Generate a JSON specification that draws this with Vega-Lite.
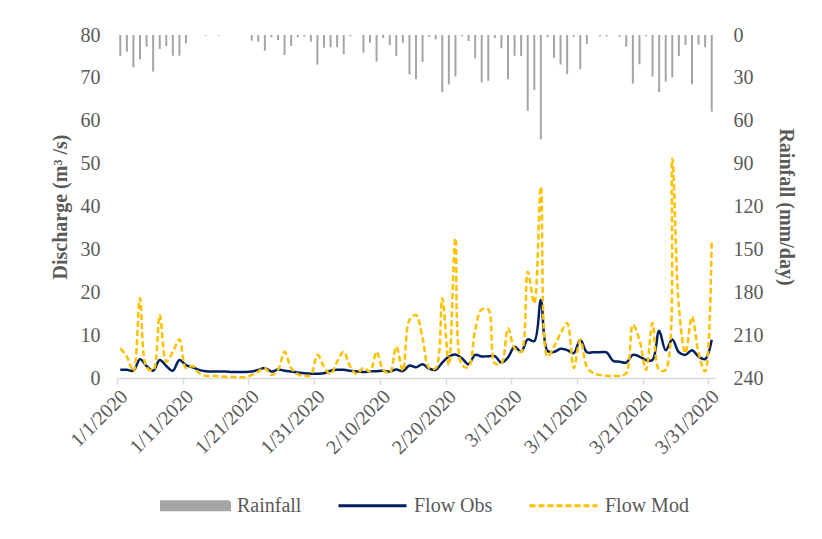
{
  "$schema": "https://vega.github.io/schema/vega-lite/v6.json",
  "autosize": "none",
  "width": 598,
  "height": 343,
  "padding": {"left": 117, "top": 35, "right": 107, "bottom": 161},
  "background": "white",
  "config": {
    "view": {"stroke": null},
    "font": "Liberation Serif",
    "axis": {"grid": false, "labelFont": "Liberation Serif", "labelColor": "#595959", "labelFontSize": 20, "titleFont": "Liberation Serif", "titleColor": "#595959", "titleFontSize": 20, "titleFontWeight": "bold"}
  },
  "data": {"values": [
    {"date": "2020/01/01", "rain": 14.7, "obs": 1.9, "mod": 6.9},
    {"date": "2020/01/02", "rain": 11.7, "obs": 1.9, "mod": 5.0},
    {"date": "2020/01/03", "rain": 22.6, "obs": 1.7, "mod": 1.5},
    {"date": "2020/01/04", "rain": 17.0, "obs": 4.4, "mod": 18.6},
    {"date": "2020/01/05", "rain": 8.2, "obs": 2.8, "mod": 2.5},
    {"date": "2020/01/06", "rain": 25.6, "obs": 1.7, "mod": 1.8},
    {"date": "2020/01/07", "rain": 9.8, "obs": 4.2, "mod": 14.7},
    {"date": "2020/01/08", "rain": 7.7, "obs": 2.8, "mod": 3.8},
    {"date": "2020/01/09", "rain": 14.5, "obs": 1.7, "mod": 6.1},
    {"date": "2020/01/10", "rain": 14.5, "obs": 4.2, "mod": 9.0},
    {"date": "2020/01/11", "rain": 5.8, "obs": 3.0, "mod": 2.3},
    {"date": "2020/01/12", "rain": 0, "obs": 2.5, "mod": 2.8},
    {"date": "2020/01/13", "rain": 0, "obs": 1.9, "mod": 1.1},
    {"date": "2020/01/14", "rain": 0.5, "obs": 1.6, "mod": 0.5},
    {"date": "2020/01/15", "rain": 0, "obs": 1.5, "mod": 0.5},
    {"date": "2020/01/16", "rain": 0.5, "obs": 1.5, "mod": 0.4},
    {"date": "2020/01/17", "rain": 0, "obs": 1.5, "mod": 0.3},
    {"date": "2020/01/18", "rain": 0, "obs": 1.4, "mod": 0.3},
    {"date": "2020/01/19", "rain": 0, "obs": 1.4, "mod": 0.2},
    {"date": "2020/01/20", "rain": 0, "obs": 1.4, "mod": 0.2},
    {"date": "2020/01/21", "rain": 4.0, "obs": 1.5, "mod": 0.7},
    {"date": "2020/01/22", "rain": 4.7, "obs": 1.9, "mod": 1.5},
    {"date": "2020/01/23", "rain": 11.0, "obs": 2.3, "mod": 2.3},
    {"date": "2020/01/24", "rain": 1.6, "obs": 1.5, "mod": 0.7},
    {"date": "2020/01/25", "rain": 3.5, "obs": 2.0, "mod": 1.9},
    {"date": "2020/01/26", "rain": 14.0, "obs": 1.7, "mod": 6.1},
    {"date": "2020/01/27", "rain": 7.7, "obs": 1.5, "mod": 2.3},
    {"date": "2020/01/28", "rain": 1.6, "obs": 1.3, "mod": 0.9},
    {"date": "2020/01/29", "rain": 1.2, "obs": 1.1, "mod": 0.5},
    {"date": "2020/01/30", "rain": 4.7, "obs": 1.0, "mod": 0.7},
    {"date": "2020/01/31", "rain": 20.7, "obs": 1.0, "mod": 5.4},
    {"date": "2020/02/01", "rain": 8.9, "obs": 1.1, "mod": 2.6},
    {"date": "2020/02/02", "rain": 8.6, "obs": 1.7, "mod": 0.9},
    {"date": "2020/02/03", "rain": 8.6, "obs": 1.9, "mod": 3.8},
    {"date": "2020/02/04", "rain": 13.5, "obs": 1.9, "mod": 6.1},
    {"date": "2020/02/05", "rain": 0.9, "obs": 1.7, "mod": 2.6},
    {"date": "2020/02/06", "rain": 0, "obs": 1.5, "mod": 0.9},
    {"date": "2020/02/07", "rain": 12.4, "obs": 1.4, "mod": 2.4},
    {"date": "2020/02/08", "rain": 5.4, "obs": 1.5, "mod": 1.5},
    {"date": "2020/02/09", "rain": 18.6, "obs": 1.6, "mod": 6.1},
    {"date": "2020/02/10", "rain": 2.1, "obs": 1.7, "mod": 1.9},
    {"date": "2020/02/11", "rain": 7.0, "obs": 1.5, "mod": 1.2},
    {"date": "2020/02/12", "rain": 14.7, "obs": 2.0, "mod": 7.3},
    {"date": "2020/02/13", "rain": 5.4, "obs": 1.6, "mod": 1.7},
    {"date": "2020/02/14", "rain": 27.5, "obs": 2.9, "mod": 13.5},
    {"date": "2020/02/15", "rain": 31.0, "obs": 2.5, "mod": 14.7},
    {"date": "2020/02/16", "rain": 18.9, "obs": 3.2, "mod": 9.3},
    {"date": "2020/02/17", "rain": 1.2, "obs": 2.2, "mod": 2.3},
    {"date": "2020/02/18", "rain": 3.0, "obs": 1.9, "mod": 2.3},
    {"date": "2020/02/19", "rain": 40.0, "obs": 3.6, "mod": 18.6},
    {"date": "2020/02/20", "rain": 34.5, "obs": 5.0, "mod": 3.0},
    {"date": "2020/02/21", "rain": 29.0, "obs": 5.5, "mod": 32.6},
    {"date": "2020/02/22", "rain": 0.9, "obs": 4.6, "mod": 3.0},
    {"date": "2020/02/23", "rain": 4.2, "obs": 3.2, "mod": 2.6},
    {"date": "2020/02/24", "rain": 16.3, "obs": 5.4, "mod": 11.2},
    {"date": "2020/02/25", "rain": 33.3, "obs": 5.0, "mod": 16.0},
    {"date": "2020/02/26", "rain": 32.0, "obs": 5.1, "mod": 16.0},
    {"date": "2020/02/27", "rain": 2.1, "obs": 5.1, "mod": 3.4},
    {"date": "2020/02/28", "rain": 9.3, "obs": 3.6, "mod": 3.4},
    {"date": "2020/02/29", "rain": 31.0, "obs": 4.8, "mod": 11.6},
    {"date": "2020/03/01", "rain": 14.5, "obs": 7.3, "mod": 6.9},
    {"date": "2020/03/02", "rain": 14.7, "obs": 6.1, "mod": 6.1},
    {"date": "2020/03/03", "rain": 53.0, "obs": 9.0, "mod": 24.8},
    {"date": "2020/03/04", "rain": 38.5, "obs": 8.6, "mod": 17.4},
    {"date": "2020/03/05", "rain": 73.0, "obs": 18.2, "mod": 44.6},
    {"date": "2020/03/06", "rain": 1.6, "obs": 6.3, "mod": 5.0},
    {"date": "2020/03/07", "rain": 16.0, "obs": 6.1, "mod": 7.3},
    {"date": "2020/03/08", "rain": 20.7, "obs": 6.8, "mod": 10.4},
    {"date": "2020/03/09", "rain": 27.5, "obs": 6.5, "mod": 12.8},
    {"date": "2020/03/10", "rain": 1.2, "obs": 5.8, "mod": 2.3},
    {"date": "2020/03/11", "rain": 24.0, "obs": 8.9, "mod": 8.9},
    {"date": "2020/03/12", "rain": 6.3, "obs": 6.0, "mod": 2.6},
    {"date": "2020/03/13", "rain": 0, "obs": 6.0, "mod": 1.1},
    {"date": "2020/03/14", "rain": 0.9, "obs": 6.0, "mod": 0.7},
    {"date": "2020/03/15", "rain": 0.9, "obs": 6.0, "mod": 0.5},
    {"date": "2020/03/16", "rain": 0, "obs": 4.0, "mod": 0.5},
    {"date": "2020/03/17", "rain": 1.2, "obs": 3.8, "mod": 0.5},
    {"date": "2020/03/18", "rain": 8.2, "obs": 3.6, "mod": 1.1},
    {"date": "2020/03/19", "rain": 34.0, "obs": 5.4, "mod": 12.4},
    {"date": "2020/03/20", "rain": 20.5, "obs": 5.0, "mod": 8.9},
    {"date": "2020/03/21", "rain": 0.9, "obs": 4.2, "mod": 1.9},
    {"date": "2020/03/22", "rain": 29.0, "obs": 4.2, "mod": 12.8},
    {"date": "2020/03/23", "rain": 40.0, "obs": 11.0, "mod": 1.9},
    {"date": "2020/03/24", "rain": 32.6, "obs": 6.5, "mod": 1.9},
    {"date": "2020/03/25", "rain": 29.6, "obs": 9.0, "mod": 51.2},
    {"date": "2020/03/26", "rain": 14.7, "obs": 6.0, "mod": 16.6},
    {"date": "2020/03/27", "rain": 7.0, "obs": 5.4, "mod": 5.8},
    {"date": "2020/03/28", "rain": 34.5, "obs": 6.5, "mod": 14.3},
    {"date": "2020/03/29", "rain": 6.8, "obs": 5.0, "mod": 5.8},
    {"date": "2020/03/30", "rain": 8.6, "obs": 4.4, "mod": 1.5},
    {"date": "2020/03/31", "rain": 53.6, "obs": 8.9, "mod": 32.2}
  ]},
  "layer": [
    {
      "mark": {"type": "rule", "strokeWidth": 2},
      "encoding": {
        "x": {
          "field": "date", "timeUnit": "yearmonthdate", "type": "temporal", "bandPosition": 0.5,
          "scale": {"domain": [{"year": 2020, "month": 1, "date": 1}, {"year": 2020, "month": 4, "date": 1}]},
          "axis": {
            "title": null,
            "values": [
              {"year": 2020, "month": 1, "date": 1}, {"year": 2020, "month": 1, "date": 11}, {"year": 2020, "month": 1, "date": 21},
              {"year": 2020, "month": 1, "date": 31}, {"year": 2020, "month": 2, "date": 10}, {"year": 2020, "month": 2, "date": 20},
              {"year": 2020, "month": 3, "date": 1}, {"year": 2020, "month": 3, "date": 11}, {"year": 2020, "month": 3, "date": 21},
              {"year": 2020, "month": 3, "date": 31}
            ],
            "format": "%-m/%-d/%Y", "formatType": "time",
            "labelAngle": -45, "labelOverlap": false, "labelBound": false, "labelFlush": false,
            "domainColor": "#D9D9D9", "domainWidth": 1.5, "tickColor": "#D9D9D9", "tickWidth": 1.5, "tickSize": 6,
            "labelPadding": 2
          }
        },
        "y": {
          "field": "rain", "type": "quantitative",
          "scale": {"domain": [0, 240], "reverse": true, "nice": false},
          "axis": {"orient": "right", "title": "Rainfall (mm/day)", "values": [0, 30, 60, 90, 120, 150, 180, 210, 240], "domain": false, "ticks": false, "labelPadding": 18, "titlePadding": 12}
        },
        "y2": {"datum": 0},
        "color": {
          "datum": "Rainfall", "type": "nominal",
          "scale": {"domain": ["Rainfall", "Flow Obs", "Flow Mod"], "range": ["#A5A5A5", "#002060", "#FFC000"]},
          "legend": {
            "title": null, "orient": "none", "legendX": 43, "legendY": 435, "direction": "horizontal",
            "symbolType": "stroke", "symbolSize": 4624, "symbolStrokeWidth": 3,
            "labelFont": "Liberation Serif", "labelFontSize": 20, "labelColor": "#595959", "labelOffset": 6, "columnPadding": 30,
            "encode": {"symbols": {"update": {
              "shape": {"signal": "datum.value === 'Rainfall' ? 'M-1,-0.12H1V0.12H-1Z' : 'stroke'"},
              "fill": {"signal": "datum.value === 'Rainfall' ? '#A5A5A5' : 'transparent'"},
              "strokeDash": {"signal": "datum.value === 'Flow Mod' ? [6, 3] : [1, 0]"}
            }}}
          }
        }
      }
    },
    {
      "mark": {"type": "line", "interpolate": "catmull-rom", "strokeWidth": 2.5},
      "encoding": {
        "x": {"field": "date", "timeUnit": "yearmonthdate", "type": "temporal", "bandPosition": 0.5},
        "y": {
          "field": "obs", "type": "quantitative",
          "scale": {"domain": [0, 80], "nice": false},
          "axis": {"orient": "left", "title": "Discharge (m³ /s)", "values": [0, 10, 20, 30, 40, 50, 60, 70, 80], "domain": false, "ticks": false, "labelPadding": 17, "titlePadding": 10}
        },
        "color": {"datum": "Flow Obs", "type": "nominal"}
      }
    },
    {
      "mark": {"type": "line", "interpolate": "catmull-rom", "strokeWidth": 2.5, "strokeDash": [6, 3]},
      "encoding": {
        "x": {"field": "date", "timeUnit": "yearmonthdate", "type": "temporal", "bandPosition": 0.5},
        "y": {"field": "mod", "type": "quantitative", "scale": {"domain": [0, 80], "nice": false}, "axis": null},
        "color": {"datum": "Flow Mod", "type": "nominal"}
      }
    }
  ],
  "resolve": {"scale": {"y": "independent"}}
}
